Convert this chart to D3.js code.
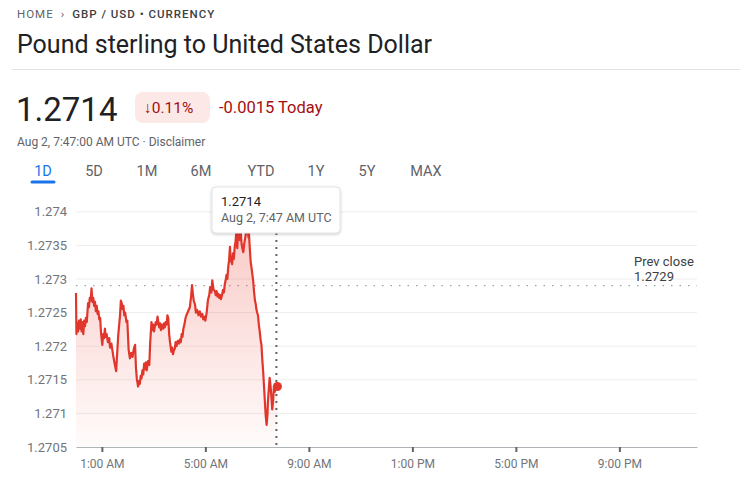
<!DOCTYPE html>
<html>
<head>
<meta charset="utf-8">
<script src="https://cdn.jsdelivr.net/npm/d3@7"></script>
<style>
    body {
        margin: 0;
        background: #fff;
        font-family: Roboto, Arial, sans-serif;
    }
    .grid line {
        stroke: #eeeeee;
        stroke-width: 1;
    }
    .y.axis text {
        fill: #70757a;
        font-size: 13px;
        font-family: Roboto, Arial, sans-serif;
    }
    .x.axis text {
        fill: #70757a;
        font-size: 12px;
        font-family: Roboto, Arial, sans-serif;
    }
    .x.axis path {
        stroke: #b0b3b8;
    }
    .x.axis line {
        stroke: #5f6368;
        stroke-width: 2;
    }
</style>
</head>
<body>
<script>

// one day of GBP/USD quotes (UTC)
var times = [
    "00:00", "00:01", "00:03", "00:05", "00:07", "00:09", "00:11", "00:13", "00:15", "00:17",
    "00:19", "00:21", "00:23", "00:25", "00:28", "00:30", "00:32", "00:34", "00:36", "00:38",
    "00:40", "00:42", "00:44", "00:46", "00:48", "00:50", "00:52", "00:54", "00:56", "00:58",
    "01:01", "01:03", "01:05", "01:07", "01:09", "01:11", "01:14", "01:17", "01:19", "01:22",
    "01:26", "01:29", "01:33", "01:36", "01:38", "01:42", "01:44", "01:46", "01:48", "01:50",
    "01:52", "01:54", "01:57", "01:59", "02:02", "02:05", "02:08", "02:11", "02:14", "02:17",
    "02:19", "02:21", "02:24", "02:26", "02:28", "02:30", "02:32", "02:34", "02:36", "02:38",
    "02:40", "02:42", "02:44", "02:47", "02:50", "02:52", "02:55", "02:57", "02:59", "03:01",
    "03:03", "03:05", "03:07", "03:09", "03:11", "03:13", "03:15", "03:17", "03:19", "03:22",
    "03:24", "03:26", "03:28", "03:30", "03:32", "03:34", "03:36", "03:38", "03:41", "03:43",
    "03:45", "03:47", "03:49", "03:51", "03:53", "03:56", "03:59", "04:01", "04:03", "04:05",
    "04:07", "04:09", "04:12", "04:14", "04:16", "04:20", "04:24", "04:27", "04:29", "04:31",
    "04:33", "04:36", "04:38", "04:41", "04:44", "04:47", "04:50", "04:53", "04:55", "04:58",
    "05:00", "05:03", "05:06", "05:09", "05:11", "05:14", "05:16", "05:19", "05:22", "05:24",
    "05:26", "05:28", "05:30", "05:32", "05:34", "05:36", "05:38", "05:41", "05:43", "05:45",
    "05:47", "05:49", "05:51", "05:53", "05:55", "05:57", "05:59", "06:00", "06:02", "06:04",
    "06:06", "06:08", "06:10", "06:12", "06:13", "06:14", "06:16", "06:18", "06:19", "06:20",
    "06:22", "06:24", "06:26", "06:28", "06:30", "06:32", "06:34", "06:35", "06:38", "06:40",
    "06:41", "06:43", "06:45", "06:48", "06:51", "06:53", "06:55", "06:57", "06:58", "07:00",
    "07:02", "07:04", "07:06", "07:08", "07:10", "07:12", "07:14", "07:16", "07:18", "07:20",
    "07:22", "07:24", "07:25", "07:27", "07:29", "07:31", "07:33", "07:35", "07:37", "07:39",
    "07:41", "07:44", "07:47"
];
var rates = [
    1.27279, 1.27218, 1.27235, 1.27222, 1.27238, 1.27226, 1.27240, 1.27222, 1.27236, 1.27218,
    1.27238, 1.27230, 1.27242, 1.27236, 1.27264, 1.27258, 1.27272, 1.27268, 1.27286, 1.27266,
    1.27272, 1.27260, 1.27266, 1.27252, 1.27260, 1.27248, 1.27252, 1.27240, 1.27242, 1.27220,
    1.27202, 1.27218, 1.27212, 1.27226, 1.27214, 1.27218, 1.27206, 1.27212, 1.27198, 1.27204,
    1.27187, 1.27176, 1.27163, 1.27195, 1.27217, 1.27245, 1.27268, 1.27264, 1.27255, 1.27260,
    1.27246, 1.27250, 1.27236, 1.27238, 1.27195, 1.27182, 1.27190, 1.27184, 1.27196, 1.27202,
    1.27168, 1.27152, 1.27140, 1.27148, 1.27144, 1.27156, 1.27152, 1.27164, 1.27158, 1.27174,
    1.27166, 1.27176, 1.27164, 1.27178, 1.27172, 1.27205, 1.27236, 1.27224, 1.27232, 1.27222,
    1.27230, 1.27236, 1.27232, 1.27244, 1.27236, 1.27228, 1.27234, 1.27224, 1.27232, 1.27226,
    1.27234, 1.27228, 1.27236, 1.27232, 1.27246, 1.27242, 1.27218, 1.27206, 1.27192, 1.27198,
    1.27188, 1.27194, 1.27196, 1.27206, 1.27200, 1.27208, 1.27204, 1.27210, 1.27206, 1.27218,
    1.27214, 1.27226, 1.27234, 1.27242, 1.27246, 1.27252, 1.27258, 1.27275, 1.27291, 1.27278,
    1.27268, 1.27262, 1.27250, 1.27254, 1.27246, 1.27252, 1.27244, 1.27248, 1.27240, 1.27244,
    1.27238, 1.27250, 1.27269, 1.27276, 1.27288, 1.27280, 1.27298, 1.27284, 1.27282, 1.27276,
    1.27282, 1.27274, 1.27278, 1.27272, 1.27276, 1.27270, 1.27274, 1.27284, 1.27280, 1.27292,
    1.27298, 1.27306, 1.27300, 1.27318, 1.27328, 1.27348, 1.27326, 1.27332, 1.27322, 1.27338,
    1.27330, 1.27348, 1.27356, 1.27372, 1.27350, 1.27346, 1.27372, 1.27385, 1.27362, 1.27358,
    1.27372, 1.27352, 1.27345, 1.27340, 1.27352, 1.27360, 1.27368, 1.27372, 1.27380, 1.27362,
    1.27368, 1.27346, 1.27326, 1.27312, 1.27296, 1.27280, 1.27268, 1.27262, 1.27256, 1.27250,
    1.27246, 1.27232, 1.27222, 1.27210, 1.27202, 1.27180, 1.27162, 1.27140, 1.27117, 1.27096,
    1.27083, 1.27098, 1.27117, 1.27135, 1.27153, 1.27142, 1.27125, 1.27106, 1.27118, 1.27140,
    1.27132, 1.27144, 1.27140
];

var yTicks = [1.2705, 1.271, 1.2715, 1.272, 1.2725, 1.273, 1.2735, 1.274];
var yTickLabels = ["1.2705", "1.271", "1.2715", "1.272", "1.2725", "1.273", "1.2735", "1.274"];
var xTickTimes = ["01:00", "05:00", "09:00", "13:00", "17:00", "21:00"];
var tabs = ["1D", "5D", "1M", "6M", "YTD", "1Y", "5Y", "MAX"];

var prevClose = 1.2729;
var lastPrice = "1.2714";
var changePct = "0.11%";
var changeAbs = "-0.0015 Today";
var day = "2023-08-02";

var parse = d3.utcParse("%Y-%m-%d %H:%M");
var data = times.map(function (t, i) {
    return {t: parse(day + " " + t), v: rates[i]};
});

width = 740;
height = 483;

var svg = d3.select("body")
    .append("svg")
    .attr("width", width)
    .attr("height", height);

// ---- header ----
var crumb = svg.append("text")
    .attr("x", 17).attr("y", 18)
    .style("font-size", "11.5px")
    .style("letter-spacing", "1px")
    .attr("fill", "#5f6368");
crumb.append("tspan").text("HOME");
crumb.append("tspan").attr("dx", 7).text("›");
crumb.append("tspan").attr("dx", 7).attr("fill", "#3c4043").style("font-weight", 500)
    .text("GBP / USD • CURRENCY");

svg.append("text")
    .attr("x", 17).attr("y", 53)
    .style("font-size", "25px")
    .attr("fill", "#202124")
    .text("Pound sterling to United States Dollar");

svg.append("line")
    .attr("x1", 12).attr("x2", 740)
    .attr("y1", 69.5).attr("y2", 69.5)
    .attr("stroke", "#e3e3e3");

svg.append("text")
    .attr("x", 16).attr("y", 121)
    .style("font-size", "33px")
    .attr("fill", "#202124")
    .text(lastPrice);

svg.append("rect")
    .attr("x", 135).attr("y", 92)
    .attr("width", 75).attr("height", 31)
    .attr("rx", 8)
    .attr("fill", "#fce8e6");

svg.append("text")
    .attr("x", 144).attr("y", 113)
    .style("font-size", "15.5px")
    .attr("fill", "#a50e0e")
    .text("↓" + changePct);

svg.append("text")
    .attr("x", 219).attr("y", 113)
    .style("font-size", "16.5px")
    .attr("fill", "#a50e0e")
    .text(changeAbs);

svg.append("text")
    .attr("x", 17).attr("y", 146)
    .style("font-size", "12px")
    .attr("fill", "#5f6368")
    .text("Aug 2, 7:47:00 AM UTC · Disclaimer");

var tabX = [43, 94, 147, 201, 261, 316, 367, 426];
svg.selectAll(".tab")
    .data(tabs)
    .enter().append("text")
    .attr("class", "tab")
    .attr("x", function (d, i) { return tabX[i]; })
    .attr("y", 176)
    .attr("text-anchor", "middle")
    .style("font-size", "14.5px")
    .attr("fill", function (d, i) { return i === 0 ? "#1a73e8" : "#5f6368"; })
    .text(function (d) { return d; });

svg.append("line")
    .attr("x1", 32).attr("x2", 54)
    .attr("y1", 182).attr("y2", 182)
    .attr("stroke", "#1a73e8")
    .attr("stroke-width", 3)
    .attr("stroke-linecap", "round");

// ---- chart ----
var x0 = 76, x1 = 697, yBottom = 447;

var x = d3.scaleUtc()
    .domain([parse(day + " 00:00"), d3.utcDay.offset(parse(day + " 00:00"), 1)])
    .range([x0, x1]);

var y = d3.scaleLinear()
    .domain([1.2705, 1.274])
    .range([yBottom, 211.8]);

var defs = svg.append("defs");
var grad = defs.append("linearGradient")
    .attr("id", "fade")
    .attr("gradientUnits", "userSpaceOnUse")
    .attr("x1", 0).attr("x2", 0)
    .attr("y1", y(1.2738)).attr("y2", yBottom);
grad.append("stop").attr("offset", 0).attr("stop-color", "#ea4335").attr("stop-opacity", 0.28);
grad.append("stop").attr("offset", 1).attr("stop-color", "#ea4335").attr("stop-opacity", 0.02);

var shadow = defs.append("filter").attr("id", "shadow")
    .attr("x", "-20%").attr("y", "-30%").attr("width", "140%").attr("height", "170%");
shadow.append("feDropShadow")
    .attr("dx", 0).attr("dy", 1).attr("stdDeviation", 1.5)
    .attr("flood-color", "#000").attr("flood-opacity", 0.22);

svg.append("g")
    .attr("class", "grid")
    .selectAll("line")
    .data(yTicks.slice(1))
    .enter().append("line")
    .attr("x1", x0).attr("x2", x1)
    .attr("y1", function (d) { return y(d); })
    .attr("y2", function (d) { return y(d); });

svg.append("line")
    .attr("x1", x0).attr("x2", x1)
    .attr("y1", y(prevClose)).attr("y2", y(prevClose))
    .attr("stroke", "#9aa0a6")
    .attr("stroke-width", 1.2)
    .attr("stroke-dasharray", "1.5,7");

var area = d3.area()
    .x(function (d) { return x(d.t); })
    .y0(yBottom)
    .y1(function (d) { return y(d.v); });

var valueline = d3.line()
    .x(function (d) { return x(d.t); })
    .y(function (d) { return y(d.v); });

svg.append("path")
    .attr("d", area(data))
    .attr("fill", "url(#fade)");

svg.append("path")
    .attr("d", valueline(data))
    .attr("fill", "none")
    .attr("stroke", "#e0362c")
    .attr("stroke-width", 2.2)
    .attr("stroke-linejoin", "round");

var last = data[data.length - 1];

svg.append("line")
    .attr("x1", x(last.t) - 1).attr("x2", x(last.t) - 1)
    .attr("y1", 212).attr("y2", yBottom)
    .attr("stroke", "#5f6368")
    .attr("stroke-width", 2)
    .attr("stroke-dasharray", "2,5");

svg.append("circle")
    .attr("cx", x(last.t))
    .attr("cy", y(last.v))
    .attr("r", 4.5)
    .attr("fill", "#e0362c");

var yAxis = d3.axisLeft(y)
    .tickValues(yTicks)
    .tickFormat(function (d, i) { return yTickLabels[i]; })
    .tickSize(0)
    .tickPadding(9);

svg.append("g")
    .attr("class", "y axis")
    .attr("transform", "translate(" + x0 + ",0)")
    .call(yAxis)
    .call(function (g) { g.select(".domain").remove(); });

var xAxis = d3.axisBottom(x)
    .tickValues(xTickTimes.map(function (t) { return parse(day + " " + t); }))
    .tickFormat(d3.utcFormat("%-I:%M %p"))
    .tickSizeInner(5)
    .tickSizeOuter(0)
    .tickPadding(7);

svg.append("g")
    .attr("class", "x axis")
    .attr("transform", "translate(0," + yBottom + ")")
    .call(xAxis);

// prev close label
svg.append("text")
    .attr("x", 634).attr("y", 266)
    .style("font-size", "13px")
    .attr("fill", "#3c4043")
    .text("Prev close");
svg.append("text")
    .attr("x", 634).attr("y", 281)
    .style("font-size", "13px")
    .attr("fill", "#3c4043")
    .text(String(prevClose));

// tooltip
var tip = svg.append("g").attr("transform", "translate(212,187)");
tip.append("rect")
    .attr("width", 128).attr("height", 46)
    .attr("rx", 4)
    .attr("fill", "#fff")
    .attr("stroke", "#e3e3e3")
    .attr("filter", "url(#shadow)");
tip.append("text")
    .attr("x", 9).attr("y", 19)
    .style("font-size", "13px")
    .attr("fill", "#202124")
    .text(lastPrice);
tip.append("text")
    .attr("x", 9).attr("y", 35)
    .style("font-size", "12.5px")
    .attr("fill", "#5f6368")
    .text("Aug 2, " + d3.utcFormat("%-I:%M %p")(last.t) + " UTC");

</script>
</body>
</html>
